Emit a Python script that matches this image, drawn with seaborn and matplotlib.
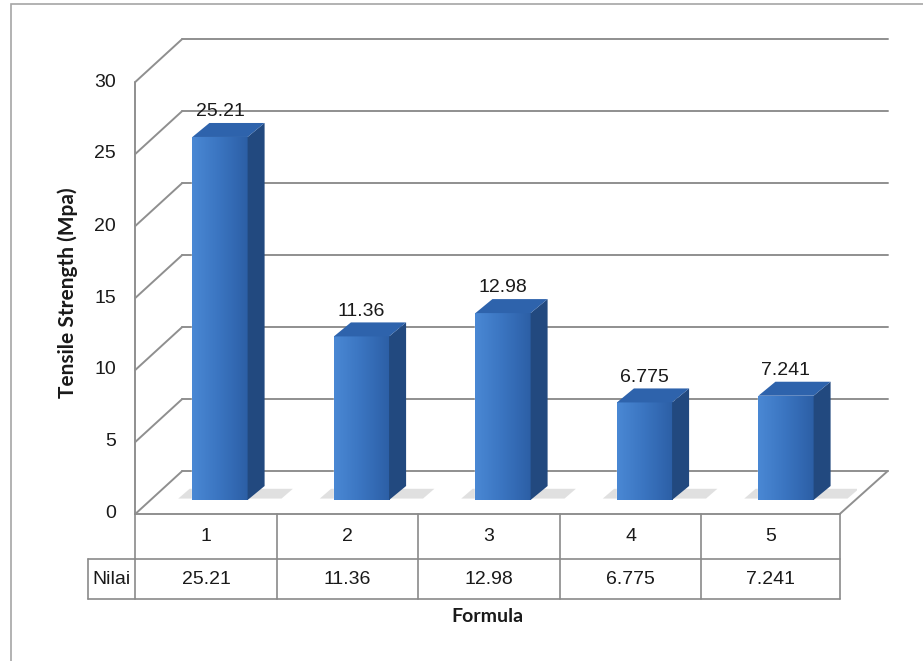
import numpy as np
import pandas as pd
import matplotlib
matplotlib.use("Agg")
import matplotlib.pyplot as plt
import seaborn as sns
from matplotlib.lines import Line2D
from matplotlib.patches import Polygon, Rectangle
from matplotlib.transforms import IdentityTransform
from matplotlib.colors import LinearSegmentedColormap

# ---- data ----
formula = ["1", "2", "3", "4", "5"]
tensile = [25.21, 11.36, 12.98, 6.775, 7.241]
value_labels = ["25.21", "11.36", "12.98", "6.775", "7.241"]
y_ticks = [0, 5, 10, 15, 20, 25, 30]
row_label = "Nilai"
x_title = "Formula"
y_title = "Tensile Strength (Mpa)"

sns.set_theme(style="white")
plt.rcParams["font.family"] = ["Liberation Sans", "DejaVu Sans"]
TITLE_FONT = ["Lato", "DejaVu Sans"]

W, H, DPI = 923, 661, 100
fig = plt.figure(figsize=(W / DPI, H / DPI), dpi=DPI)
fig.patch.set_facecolor("white")

# axes = the plane on which the bar fronts stand
L, R, B, T = 149.25, 856.75, 500, 68
ax = fig.add_axes([L / W, (H - B) / H, (R - L) / W, (B - T) / H])
df = pd.DataFrame({"Formula": formula, "Tensile": tensile})
sns.barplot(data=df, x="Formula", y="Tensile", color="#3E7BC8", width=0.39,
            saturation=1, ax=ax, zorder=3)
ax.set_xlim(-0.5, 4.5)
ax.set_ylim(0, 30)
ax.axis("off")
ax.patch.set_alpha(0)

GRID = "#8F8F8F"
FRONT = np.array([-14.0, -14.0])   # display-pixel offset of front plane
BACK = np.array([33.0, 29.0])      # display-pixel offset of back wall
BACK_R = np.array([31.0, 29.0])

def P(x, v, off=(0, 0)):
    return ax.transData.transform((x, v)) + np.asarray(off)

def line(p, q, **kw):
    kw.setdefault("color", GRID)
    kw.setdefault("lw", 1.4)
    ax.add_line(Line2D([p[0], q[0]], [p[1], q[1]], transform=IdentityTransform(),
                       clip_on=False, zorder=kw.pop("zorder", 1), **kw))

# outer chart border
fig.add_artist(Rectangle((11, -20), W + 20, H - 4 + 20, transform=IdentityTransform(),
                         fill=False, ec="#A6A6A6", lw=1.2))

# back wall gridlines + side wall diagonals
for v in y_ticks:
    line(P(-0.5, v, BACK), P(4.5, v, BACK_R))
    line(P(-0.5, v, FRONT), P(-0.5, v, BACK))
# front vertical axis
line(P(-0.5, 0, FRONT), P(-0.5, 30, FRONT))
# floor edges
line(P(-0.5, 0, FRONT), P(4.5, 0, FRONT + np.array([-3, 0])))
line(P(4.5, 0, FRONT + np.array([-3, 0])), P(4.5, 0, BACK_R))

# 3D bar sides, tops, gradients, value labels
px_x = P(1, 0)[0] - P(0, 0)[0]
px_y = P(0, 1)[1] - P(0, 0)[1]
ddx, ddy = 17 / px_x, 14 / px_y
grad = LinearSegmentedColormap.from_list("g", ["#4A88D4", "#3A74C0", "#2C5FA6"])
for patch, val, lab in zip(ax.patches, tensile, value_labels):
    x0 = patch.get_x()
    w = patch.get_width()
    x1 = x0 + w
    h = patch.get_height()
    # soft shadow on floor
    ax.add_patch(Polygon([(x0 - 0.1, 0.1), (x1 + ddx + 0.12, 0.1), (x1 + ddx + 0.2, ddy * 0.8),
                          (x0 - 0.02, ddy * 0.8)], closed=True, fc="#C8C8C8", ec="none",
                         alpha=0.55, zorder=2))
    g = np.tile(np.linspace(0, 1, 64), (64, 1))
    im = ax.imshow(g, extent=(x0, x1, 0, h), cmap=grad, aspect="auto",
                   origin="lower", zorder=3.1, interpolation="bicubic")
    im.set_clip_path(patch)
    ax.add_patch(Polygon([(x1, 0), (x1, h), (x1 + ddx, h + ddy), (x1 + ddx, ddy)],
                         closed=True, fc="#22497F", ec="none", zorder=3.2))
    ax.add_patch(Polygon([(x0, h), (x1, h), (x1 + ddx, h + ddy), (x0 + ddx, h + ddy)],
                         closed=True, fc="#2E63AC", ec="none", zorder=3.2))
    ax.annotate(lab, (x0 + w / 2, h + ddy), xytext=(0, 2), textcoords="offset points",
                ha="center", va="bottom", fontsize=14, color="#1a1a1a", zorder=5)
ax.set_xlim(-0.5, 4.5)
ax.set_ylim(0, 30)

# y tick labels on front plane
for v in y_ticks:
    p = P(-0.5, v, FRONT)
    ax.text(116, p[1], str(v), transform=IdentityTransform(), ha="right", va="center",
            fontsize=14, color="#1a1a1a")

# data table under the chart
y_top = P(0, 0, FRONT)[1]
y_mid = H - 559
y_bot = H - 599
xl = P(-0.5, 0, FRONT)[0]
xr = P(4.5, 0, FRONT)[0] - 3
edges = [P(i - 0.5, 0, FRONT)[0] for i in range(6)]
edges[-1] = xr
TB = "#8A8A8A"
line((xl, y_mid), (xr, y_mid), color=TB, lw=1.2)
line((88, y_bot), (xr, y_bot), color=TB, lw=1.2)
line((88, y_mid), (xl, y_mid), color=TB, lw=1.2)
line((88, y_mid), (88, y_bot), color=TB, lw=1.2)
for e in edges:
    line((e, y_top), (e, y_bot), color=TB, lw=1.2)
for i, (f, lab) in enumerate(zip(formula, value_labels)):
    cx = (edges[i] + edges[i + 1]) / 2
    ax.text(cx, (y_top + y_mid) / 2, f, transform=IdentityTransform(), ha="center",
            va="center", fontsize=14, color="#1a1a1a")
    ax.text(cx, (y_mid + y_bot) / 2, lab, transform=IdentityTransform(), ha="center",
            va="center", fontsize=14, color="#1a1a1a")
ax.text((88 + xl) / 2, (y_mid + y_bot) / 2, row_label, transform=IdentityTransform(),
        ha="center", va="center", fontsize=14, color="#1a1a1a")

# axis titles
fig.text((xl + xr) / 2 / W, (H - 616) / H, x_title, ha="center", va="center",
         fontsize=14, fontweight="bold", family=TITLE_FONT, color="#1a1a1a")
fig.text(68 / W, (H - 293) / H, y_title, ha="center", va="center", rotation=90,
         fontsize=15, fontweight="bold", family=TITLE_FONT, color="#1a1a1a")

fig.savefig("out.png", dpi=DPI)
